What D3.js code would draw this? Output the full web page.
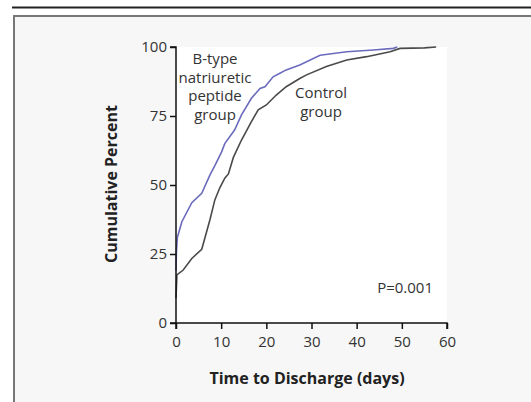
<!DOCTYPE html>
<html>
<head>
<meta charset="utf-8">
<script src="https://cdn.jsdelivr.net/npm/d3@7"></script>
<style>
  body { margin: 0; background: #fff; }
  svg { display: block; font-family: "Open Sans", "Noto Sans", sans-serif; }
</style>
</head>
<body>
<div id="chart"></div>
<script>
// values
var bnpDays = [0, 0.1, 0.3, 1.3, 3.5, 5.7, 7.5, 8.6, 10.1, 10.8, 13, 14.5, 16.7, 18.6, 19.7, 21.5, 23, 24.4, 27.4, 31.9, 37.8, 43.7, 48.1, 49];
var bnpPct = [19, 26, 31, 36.7, 43.6, 47, 53.6, 57, 62, 65, 70, 75.4, 81.4, 85, 85.6, 89.2, 90.5, 91.7, 93.5, 97, 98.3, 98.9, 99.5, 100];

var controlDays = [0, 0.2, 1.6, 3.5, 5.7, 7.5, 8.6, 9.7, 10.8, 11.6, 12.7, 14.5, 16.7, 18.2, 20, 22.2, 24.4, 27.4, 28.9, 33.3, 37.8, 42.2, 47.4, 49.6, 55, 57.6];
var controlPct = [9, 17.4, 19.2, 23.4, 26.7, 37.3, 44.6, 49, 52.5, 54, 60, 66.3, 73, 77.2, 79, 82.6, 85.6, 88.6, 89.9, 92.9, 95.3, 96.5, 98.3, 99.5, 99.7, 100];

var xTicks = [0, 10, 20, 30, 40, 50, 60];
var yTicks = [0, 25, 50, 75, 100];

const width = 531, height = 402;
const plotL = 176, plotR = 447, plotT = 47, plotB = 323;

const svg = d3.select("#chart").append("svg")
    .attr("width", width)
    .attr("height", height);

// frame: rule on top, grey panel with border on left/top
svg.append("rect").attr("x", 0).attr("y", 0).attr("width", width).attr("height", height).attr("fill", "#fff");
svg.append("line").attr("x1", 12).attr("x2", width).attr("y1", 7.5).attr("y2", 7.5)
    .attr("stroke", "#222").attr("stroke-width", 2);
svg.append("rect").attr("x", 14).attr("y", 16).attr("width", width).attr("height", height)
    .attr("fill", "#f7f7f7").attr("stroke", "#777").attr("stroke-width", 2);

const x = d3.scaleLinear().domain([0, 60]).range([plotL, plotR]);
const y = d3.scaleLinear().domain([0, 100]).range([plotB, plotT]);

// white plot area
svg.append("rect").attr("x", plotL).attr("y", plotT)
    .attr("width", plotR - plotL).attr("height", plotB - plotT).attr("fill", "#fff");

const line = d3.line().x(d => x(d[0])).y(d => y(d[1]));

svg.append("path")
    .datum(d3.zip(controlDays, controlPct))
    .attr("d", line)
    .attr("fill", "none").attr("stroke", "#4a4a4a").attr("stroke-width", 1.6);

svg.append("path")
    .datum(d3.zip(bnpDays, bnpPct))
    .attr("d", line)
    .attr("fill", "none").attr("stroke", "#6b6bbd").attr("stroke-width", 1.6);

// axes
const xAxis = svg.append("g").attr("transform", "translate(0," + plotB + ")")
    .call(d3.axisBottom(x).tickValues(xTicks).tickSize(6).tickPadding(7));
const yAxis = svg.append("g").attr("transform", "translate(" + plotL + ",0)")
    .call(d3.axisLeft(y).tickValues(yTicks).tickSize(6).tickPadding(3));

[xAxis, yAxis].forEach(function(g) {
    g.select(".domain").attr("stroke", "#111").attr("stroke-width", 1.5);
    g.selectAll(".tick line").attr("stroke", "#111").attr("stroke-width", 1.5);
    g.selectAll(".tick text").attr("fill", "#333").style("font-size", "15px")
        .style("font-family", "'Open Sans', 'Noto Sans', sans-serif");
});
// the axes meet with ticks going outward
xAxis.select(".domain").attr("d", "M" + plotL + ",6V0H" + plotR + "V6");
yAxis.select(".domain").attr("d", "M-6," + plotT + "H0V" + plotB + "H-6");

// axis titles
svg.append("text")
    .attr("x", 307).attr("y", 384)
    .attr("text-anchor", "middle")
    .attr("font-weight", "bold").attr("font-size", 16).attr("fill", "#222")
    .text("Time to Discharge (days)");

svg.append("text")
    .attr("transform", "translate(117,184) rotate(-90)")
    .attr("text-anchor", "middle")
    .attr("font-weight", "bold").attr("font-size", 16).attr("fill", "#222")
    .text("Cumulative Percent");

// curve labels
function label(lines, cx, cy0, step) {
    const t = svg.append("text").attr("text-anchor", "middle")
        .attr("font-size", 15).attr("fill", "#333");
    lines.forEach(function(s, i) {
        t.append("tspan").attr("x", cx).attr("y", cy0 + i * step).text(s);
    });
}
label(["B-type", "natriuretic", "peptide", "group"], 215, 64, 18.7);
label(["Control", "group"], 321, 98, 19);

svg.append("text")
    .attr("x", 433).attr("y", 293)
    .attr("text-anchor", "end")
    .attr("font-size", 15).attr("fill", "#333")
    .text("P=0.001");
</script>
</body>
</html>
